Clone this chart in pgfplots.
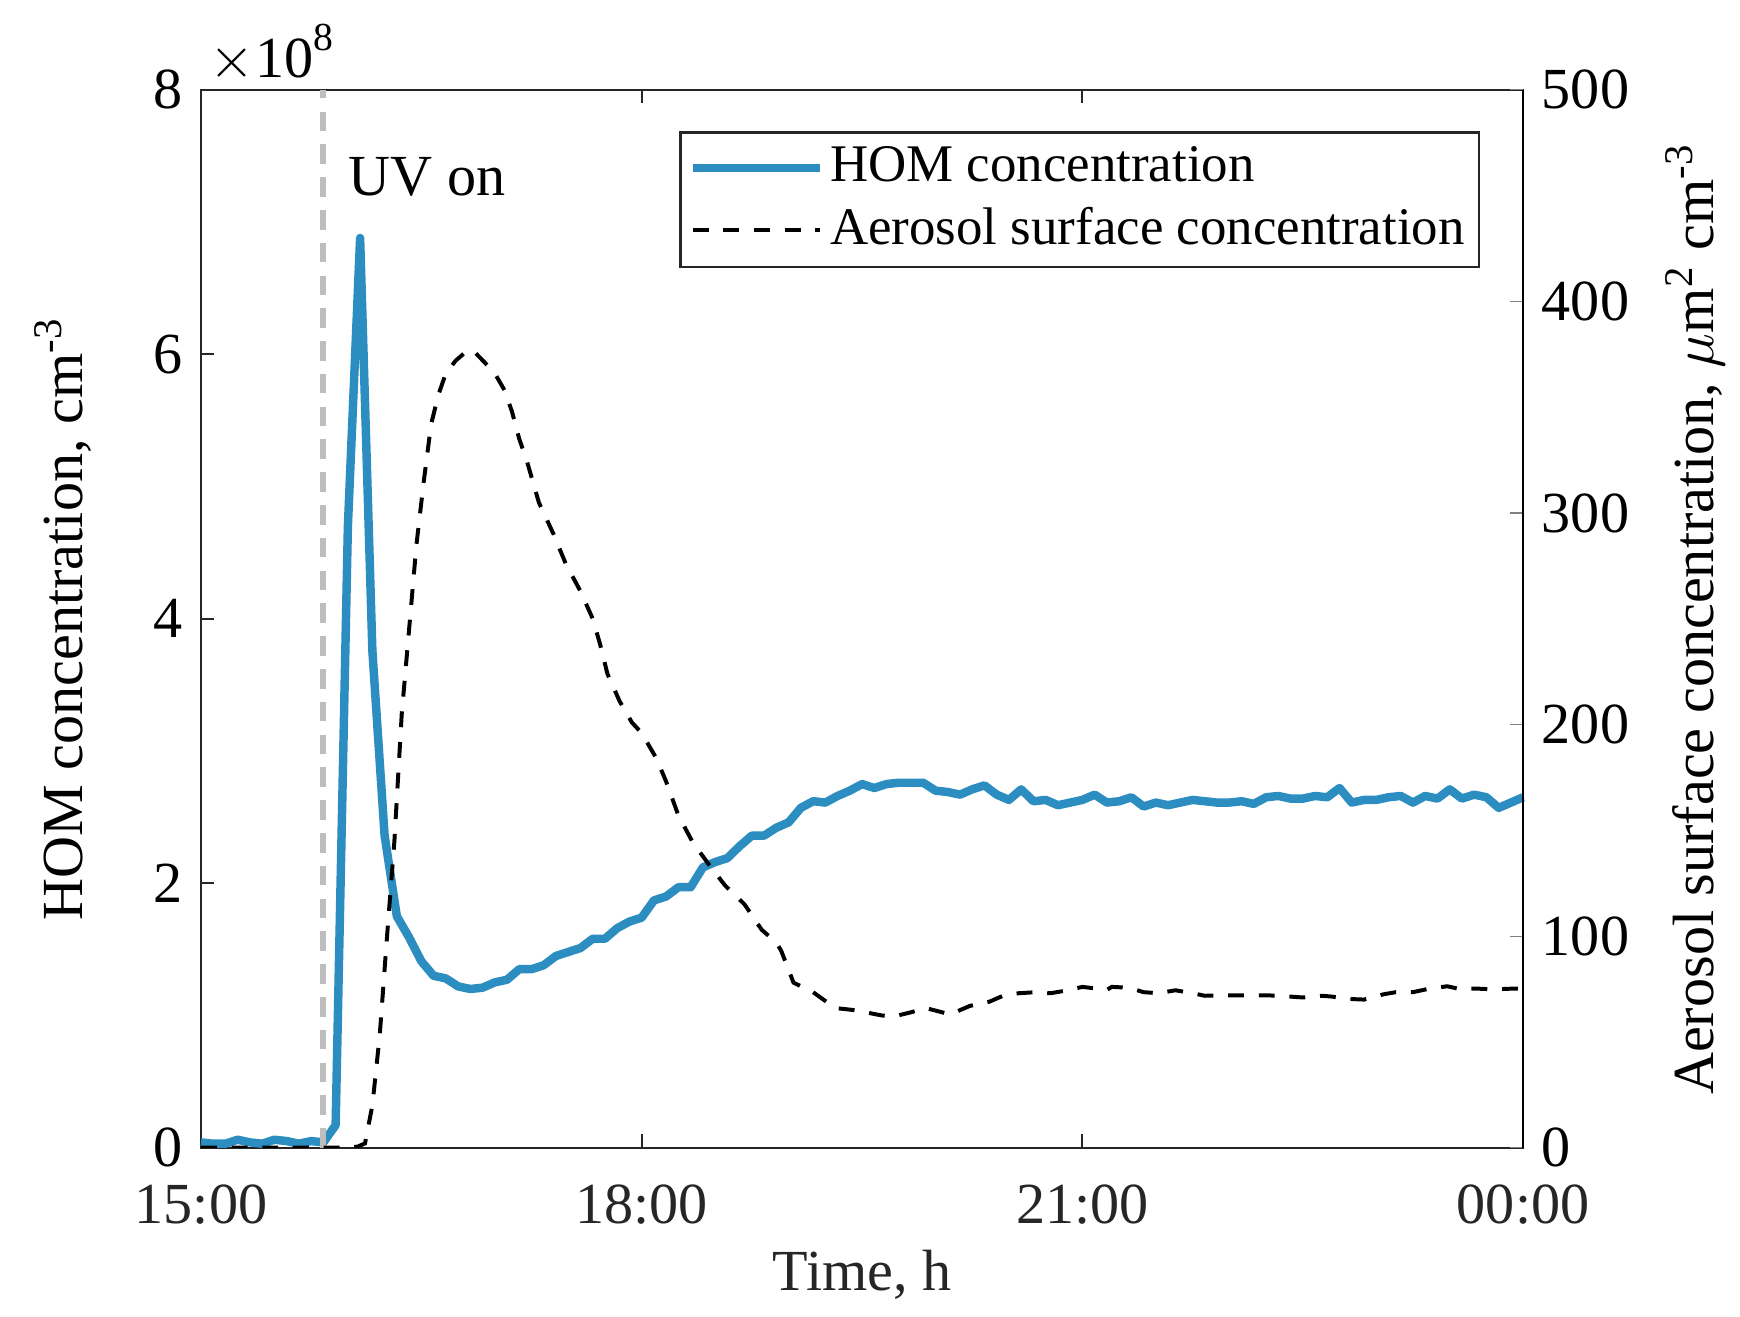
\documentclass[border=0pt]{standalone}
\usepackage{pgfplots}
\pgfplotsset{compat=1.18}
\usepackage{fontspec}
\setmainfont{Liberation Serif}
\definecolor{homblue}{RGB}{44,142,192}
\definecolor{axgray}{RGB}{38,38,38}
\definecolor{uvgray}{RGB}{190,190,190}
\begin{document}
\begin{tikzpicture}
\useasboundingbox (-38pt,-32pt) rectangle (291pt,217pt);
\begin{axis}[
  scale only axis, width=250pt, height=200pt,
  xmin=0, xmax=540, ymin=0, ymax=8,
  xtick={0,180,360,540}, xticklabels={15:00,18:00,21:00,00:00},
  ytick={0,2,4,6,8}, scaled y ticks=false,
  /pgf/number format/assume math mode=true,
  xtick pos=both, ytick pos=left, tick align=inside,
  major tick length=2.5pt,
  axis line style={axgray}, every tick/.style={axgray},
  tick label style={font=\fontsize{11}{13}\selectfont},
  x tick label style={text=axgray, inner ysep=0.5pt, yshift=-6.3pt},
  y tick label style={inner ysep=0.5pt},
  xlabel={Time, h}, xlabel style={font=\fontsize{11}{13}\selectfont, text=axgray, at={(axis description cs:0.5,-0.12)}, anchor=center},
  ylabel={HOM concentration, cm\textsuperscript{-3}},
  ylabel style={font=\fontsize{11}{13}\selectfont, at={(axis description cs:-0.104,0.5)}, anchor=center},
  clip=false,
]
\addplot[homblue, line width=1.6pt, line join=round] coordinates {
(0,0.04) (5,0.03) (10,0.03) (15,0.06) (20,0.04) (25,0.03) (30,0.06) (35,0.05) (40,0.03) (45,0.05)
(50,0.04) (55,0.17) (60,4.70) (65,6.88) (70,3.76) (75,2.36) (80,1.75) (85,1.59) (90,1.41) (95,1.30)
(100,1.28) (105,1.22) (110,1.20) (115,1.21) (120,1.25) (125,1.27) (130,1.35) (135,1.35) (140,1.38) (145,1.45)
(150,1.48) (155,1.51) (160,1.58) (165,1.58) (170,1.66) (175,1.71) (180,1.74) (185,1.87) (190,1.90) (195,1.97)
(200,1.97) (205,2.12) (210,2.16) (215,2.19) (220,2.28) (225,2.36) (230,2.36) (235,2.42) (240,2.46) (245,2.57)
(250,2.62) (255,2.61) (260,2.66) (265,2.70) (270,2.75) (275,2.72) (280,2.75) (285,2.76) (290,2.76) (295,2.76)
(300,2.70) (305,2.69) (310,2.67) (315,2.71) (320,2.74) (325,2.67) (330,2.63) (335,2.71) (340,2.62) (345,2.63)
(350,2.59) (355,2.61) (360,2.63) (365,2.67) (370,2.61) (375,2.62) (380,2.65) (385,2.58) (390,2.61) (395,2.59)
(400,2.61) (405,2.63) (410,2.62) (415,2.61) (420,2.61) (425,2.62) (430,2.60) (435,2.65) (440,2.66) (445,2.64)
(450,2.64) (455,2.66) (460,2.65) (465,2.72) (470,2.61) (475,2.63) (480,2.63) (485,2.65) (490,2.66) (495,2.61)
(500,2.66) (505,2.64) (510,2.71) (515,2.64) (520,2.67) (525,2.65) (530,2.57) (535,2.61) (540,2.65)
};
\addplot[uvgray, line width=1.1pt, dash pattern=on 3.7pt off 2.5pt] coordinates {(50,0) (50,8)};
\node[anchor=base west, inner sep=0pt, font=\fontsize{11}{13}\selectfont] at (axis cs:60,7.2) {UV on};
\node[anchor=base west, inner sep=0pt, font=\fontsize{11}{13}\selectfont] at ([xshift=1.5pt,yshift=2.3pt]rel axis cs:0,1) {$\times$10\raisebox{5.2pt}{\fontsize{7.5}{8}\selectfont 8}};
\end{axis}
\begin{axis}[
  scale only axis, width=250pt, height=200pt,
  xmin=0, xmax=540, ymin=0, ymax=500,
  axis x line=none, axis y line*=right,
  ytick={0,100,200,300,400,500},
  /pgf/number format/assume math mode=true,
  tick align=inside, major tick length=2.5pt,
  axis line style={black},
  tick label style={font=\fontsize{11}{13}\selectfont, inner ysep=0.5pt},
  ylabel={Aerosol surface concentration, $\mu$m\textsuperscript{2} cm\textsuperscript{-3}},
  ylabel style={font=\fontsize{11}{13}\selectfont, at={(axis description cs:1.13,0.5)}, anchor=center},
  legend style={at={(rel axis cs:0.9675,0.961)}, anchor=north east, draw=axgray, fill=white,
    line width=0.5pt, inner xsep=1.5pt, inner ysep=0.5pt, row sep=-1pt, font=\fontsize{10}{12}\selectfont,
    nodes={inner xsep=1.2pt, inner ysep=2.2pt}},
  legend cell align=left,
  legend image code/.code={\draw[#1] (0pt,0pt) -- (24pt,0pt);},
]
\addlegendimage{homblue, line width=1.6pt}
\addlegendentry{HOM concentration}
\addplot[black, line width=0.75pt, dash pattern=on 3pt off 2.8pt] coordinates {
(0,0) (30,0) (60,0) (64,0.5) (67,2) (70,20) (73,53) (76,100) (79,145) (82,205) (85,245) (88,285)
(91,315) (94,342) (97,356) (100,366) (104,372) (108,376) (111,377) (116,371) (120,366) (124,358)
(127,348) (130,335) (133,325) (138,305) (144,290) (149,276) (155,263) (160,250) (163,238) (166,224)
(171,211) (176,201) (180,196) (186,184) (190,173) (195,157) (201,144) (208,133) (214,124) (222,115)
(229,103) (235,97) (237,93) (242,78) (250,73.5) (259,66) (267,65) (278,62.5) (283,62) (290,64)
(296,66) (306,63) (314,67) (322,69) (328,72) (334,73) (341,73.5) (347,73) (354,74.4) (360,76)
(370,74.6) (372,76) (379,75.6) (385,73.5) (391,73) (398,74.4) (405,73) (410,71.8) (417,72) (436,72)
(445,71.4) (450,71) (458,71.8) (462,71.4) (469,70.3) (475,70) (483,72.5) (488,73.5) (495,73.5) (501,75)
(509,76.3) (514,75) (521,75.2) (528,74.8) (536,75.2) (540,75.2)
};
\addlegendentry{Aerosol surface concentration}
\end{axis}
\end{tikzpicture}
\end{document}
